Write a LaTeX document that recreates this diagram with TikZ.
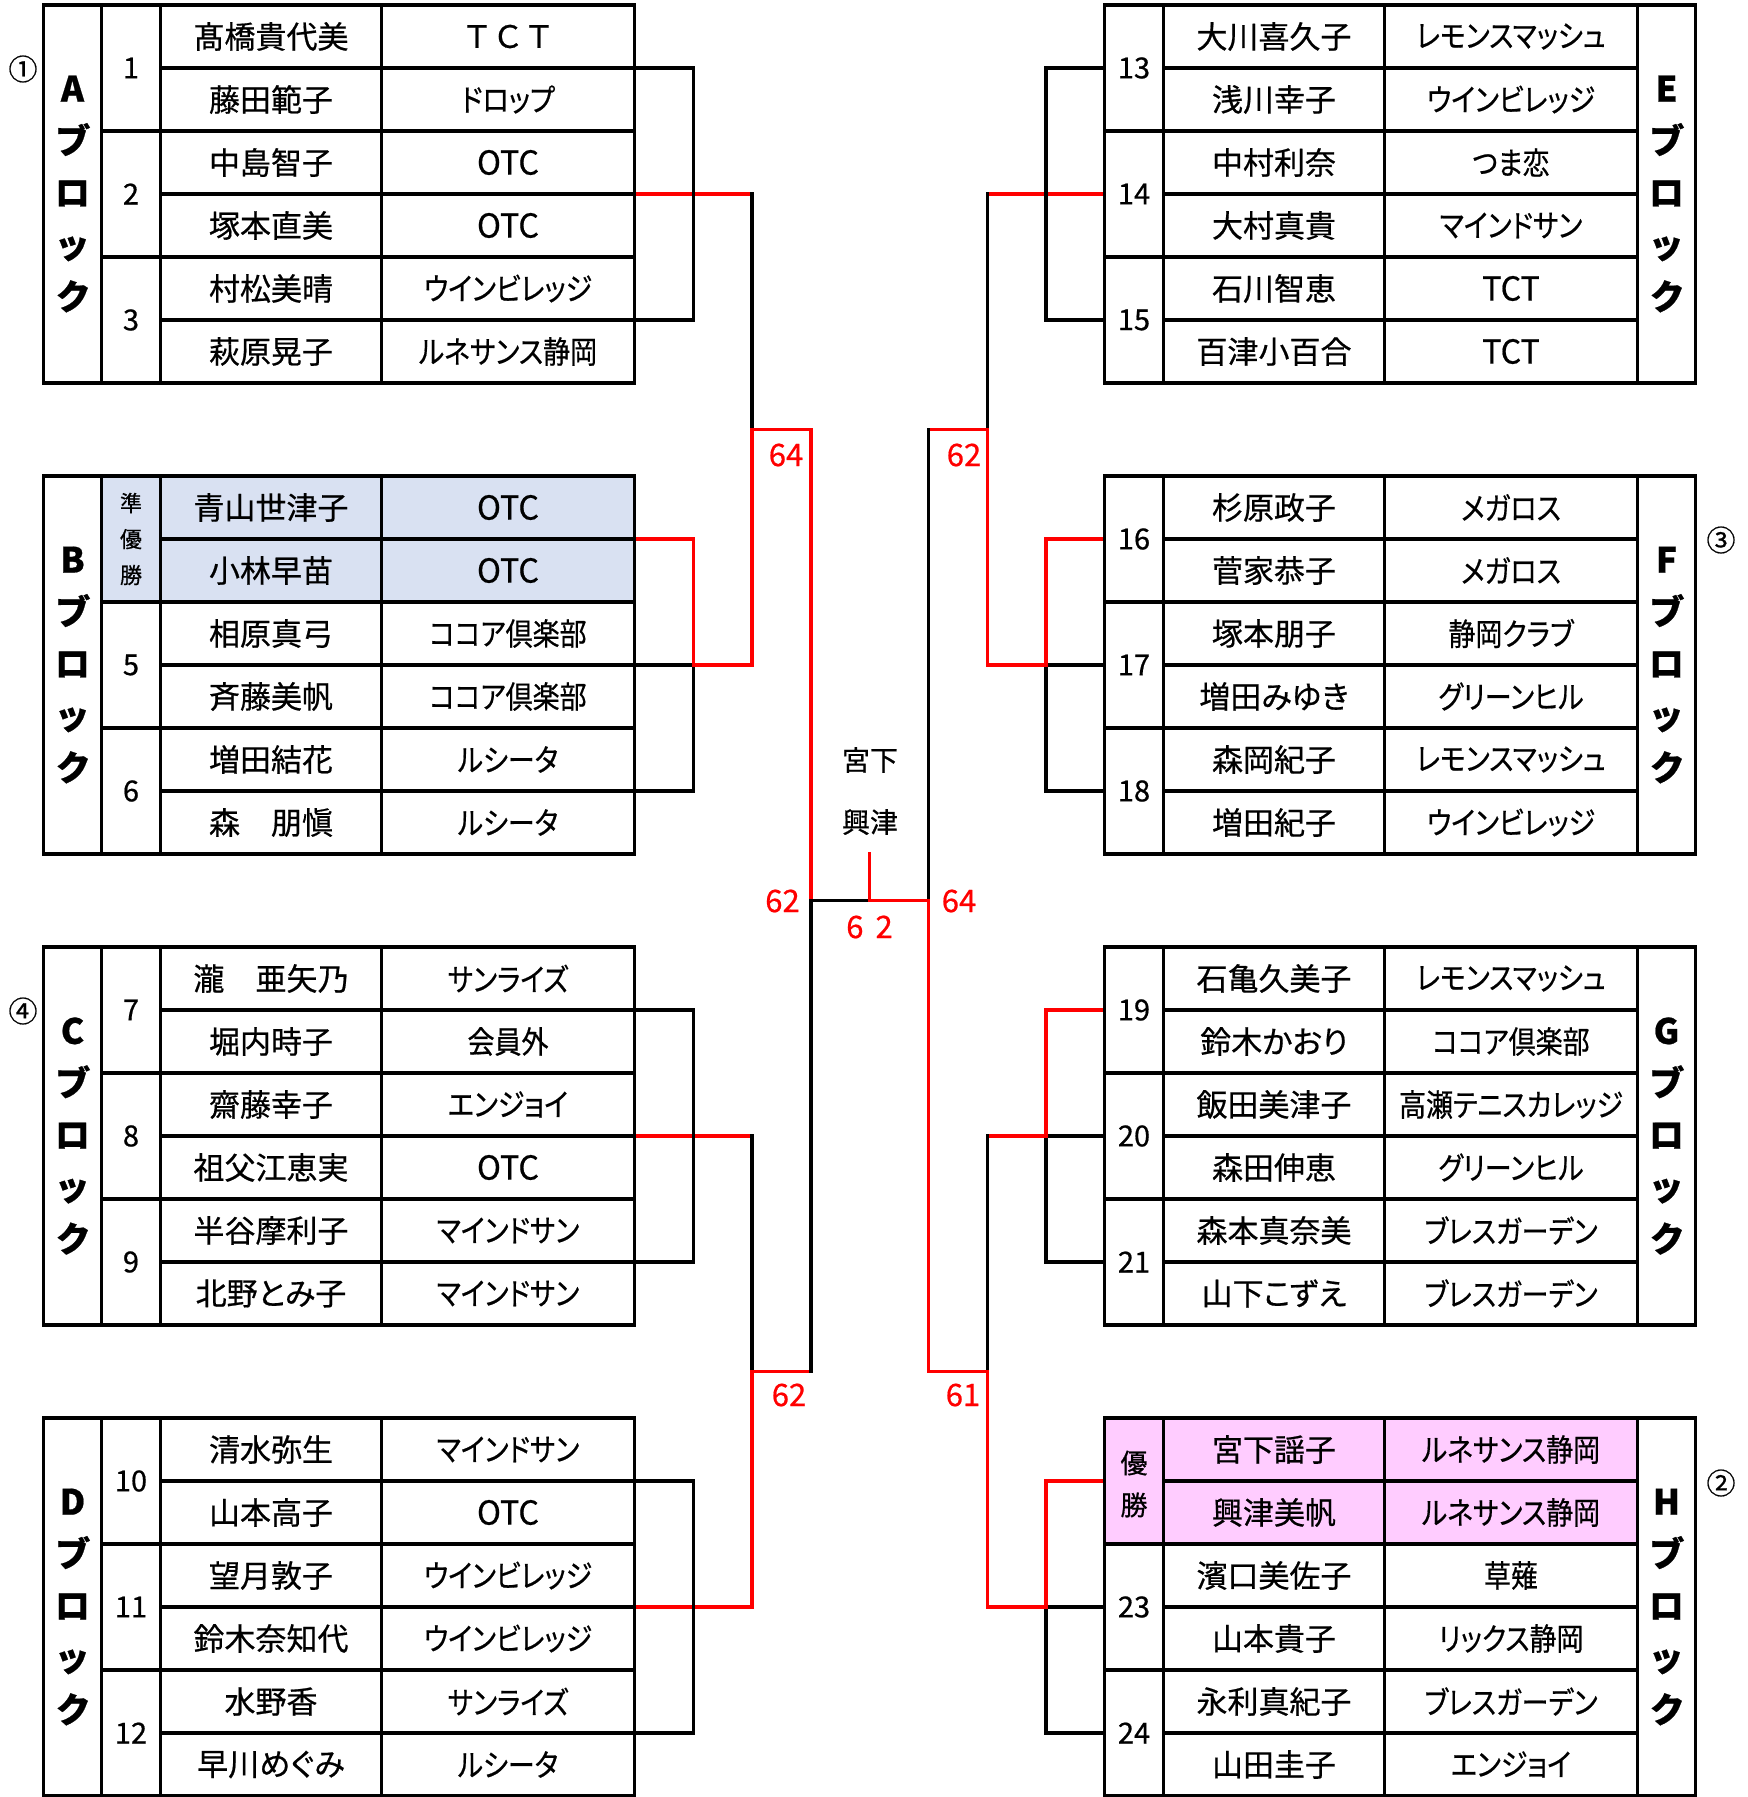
\documentclass[tikz,border=0pt]{standalone}
\usepackage{fontspec}
\setmainfont{Noto Sans CJK JP}[RawFeature={+palt;embolden=0.6}]
\newfontfamily\jpw{Noto Sans CJK JP}[RawFeature={embolden=0.6}]
\definecolor{winred}{RGB}{255,0,0}
\definecolor{runbg}{RGB}{217,225,242}
\definecolor{chbg}{RGB}{255,204,255}
\newcommand\LT[1]{\scalebox{1.12}[1]{\fontsize{33}{38}\selectfont #1}}
\newcommand\WT[1]{\scalebox{1.15}[1]{\jpw #1}}
\tikzset{
  tline/.style={line width=3.3pt, black},
  blk/.style={line width=3.3pt, black},
  win/.style={line width=3.3pt, winred},
  txt/.style={font=\fontsize{31}{36}\selectfont, inner sep=0pt},
  num/.style={font=\fontsize{29}{32}\selectfont, inner sep=0pt},
  blab/.style={font=\bfseries\fontsize{35}{52}\selectfont, inner sep=0pt, align=center},
  smallv/.style={font=\fontsize{22}{36}\selectfont, inner sep=0pt, align=center},
  champv/.style={font=\fontsize{27}{42}\selectfont, inner sep=0pt, align=center},
  score/.style={font=\fontsize{31}{34}\selectfont, inner sep=0pt, text=winred},
  mid/.style={font=\fontsize{28}{32}\selectfont, inner sep=0pt},
  circ/.style={font=\fontsize{29}{32}\selectfont, inner sep=0pt},
}
% tables
\newcommand\tabL[1]{%
  \draw[tline] (43.5,#1) rectangle (634.5,#1+378);
  \foreach \xx in {101.5,160.5,381.5} \draw[tline] (\xx,#1) -- (\xx,#1+378);
  \foreach \k in {1,...,5} \draw[tline] (160.5,#1+63*\k) -- (634.5,#1+63*\k);
  \foreach \k in {2,4} \draw[tline] (101.5,#1+63*\k) -- (160.5,#1+63*\k);}
\newcommand\tabR[1]{%
  \draw[tline] (1104.5,#1) rectangle (1695.5,#1+378);
  \foreach \xx in {1163.5,1384.5,1637.5} \draw[tline] (\xx,#1) -- (\xx,#1+378);
  \foreach \k in {1,...,5} \draw[tline] (1163.5,#1+63*\k) -- (1637.5,#1+63*\k);
  \foreach \k in {2,4} \draw[tline] (1104.5,#1+63*\k) -- (1163.5,#1+63*\k);}
\newcommand\rowsL[3]{%
  \foreach \nm/\cl [count=\i from 0] in {#3}{%
    \node[txt] (#1-n\i) at (271,#2+63*\i+31.5) {\nm};
    \node[txt] (#1-c\i) at (508,#2+63*\i+31.5) {\scalebox{0.87}[1]{\cl}};}}
\newcommand\rowsR[3]{%
  \foreach \nm/\cl [count=\i from 0] in {#3}{%
    \node[txt] (#1-n\i) at (1274,#2+63*\i+31.5) {\nm};
    \node[txt] (#1-c\i) at (1511,#2+63*\i+31.5) {\scalebox{0.87}[1]{\cl}};}}
% brackets
\newcommand\brco[5]{%
  \coordinate (#1-e1) at (#3,#2+63);
  \coordinate (#1-e2) at (#3,#2+189);
  \coordinate (#1-e3) at (#3,#2+315);
  \coordinate (#1-b1) at (#4,#2+63);
  \coordinate (#1-b2) at (#4,#2+189);
  \coordinate (#1-b3) at (#4,#2+315);
  \coordinate (#1-o) at (#5,#2+189);}
\newcommand\brmid[1]{%
  \draw[win] (#1-e2) -- (#1-o);
  \draw[blk] (#1-e1) -- (#1-b1) -- (#1-b3) -- (#1-e3);}
\newcommand\brtop[1]{%
  \draw[blk] (#1-e2) -- (#1-b2) -- (#1-b3) -- (#1-e3);
  \draw[win] (#1-e1) -- (#1-b1) -- (#1-b2) -- (#1-o);}
\begin{document}
\begin{tikzpicture}[x=1pt,y=-1pt,line join=miter,line cap=rect]
\useasboundingbox (0,0) rectangle (1748,1797);
% shading
\fill[runbg] (101.5,476) rectangle (634.5,602);
\fill[chbg] (1104.5,1418) rectangle (1637.5,1544);
% bracket coordinates
\brco{A}{5}{634.5}{693.5}{752}
\brco{B}{476}{634.5}{693.5}{752}
\brco{C}{947}{634.5}{693.5}{752}
\brco{D}{1418}{634.5}{693.5}{752}
\brco{E}{5}{1104.5}{1046}{987.5}
\brco{F}{476}{1104.5}{1046}{987.5}
\brco{G}{947}{1104.5}{1046}{987.5}
\brco{H}{1418}{1104.5}{1046}{987.5}
\brmid{A}\brtop{B}\brmid{C}\brmid{D}
\brmid{E}\brtop{F}\brtop{G}\brtop{H}
% semifinal and final
\coordinate (L1j) at (752,429.5);  \coordinate (L1f) at (811,429.5);
\coordinate (L2j) at (752,1371.5); \coordinate (L2f) at (811,1371.5);
\coordinate (R1j) at (987.5,429.5);  \coordinate (R1f) at (928.5,429.5);
\coordinate (R2j) at (987.5,1371.5); \coordinate (R2f) at (928.5,1371.5);
\coordinate (FL) at (811,900.5); \coordinate (FC) at (869.5,900.5);
\coordinate (FR) at (928.5,900.5); \coordinate (FT) at (869.5,854);
\draw[blk] (A-o) -- (L1j);
\draw[win] (B-o) -- (L1j) -- (L1f);
\draw[blk] (C-o) -- (L2j);
\draw[win] (D-o) -- (L2j) -- (L2f);
\draw[blk] (E-o) -- (R1j);
\draw[win] (F-o) -- (R1j) -- (R1f);
\draw[blk] (G-o) -- (R2j);
\draw[win] (H-o) -- (R2j) -- (R2f);
\draw[win] (L1f) -- (FL);
\draw[blk] (L2f) -- (FL) -- (FC);
\draw[blk] (R1f) -- (FR);
\draw[win] (R2f) -- (FR);
\draw[win] (FT) -- (FC) -- (FR);
% tables
\tabL{5}\tabL{476}\tabL{947}\tabL{1418}
\tabR{5}\tabR{476}\tabR{947}\tabR{1418}
% texts
\rowsL{A}{5}{髙橋貴代美/\WT{ＴＣＴ},藤田範子/ドロップ,中島智子/\LT{OTC},塚本直美/\LT{OTC},村松美晴/ウインビレッジ,萩原晃子/ルネサンス静岡}
\rowsL{B}{476}{青山世津子/\LT{OTC},小林早苗/\LT{OTC},相原真弓/ココア倶楽部,斉藤美帆/ココア倶楽部,増田結花/ルシータ,森　朋愼/ルシータ}
\rowsL{C}{947}{瀧　亜矢乃/サンライズ,堀内時子/会員外,齋藤幸子/エンジョイ,祖父江恵実/\LT{OTC},半谷摩利子/マインドサン,北野とみ子/マインドサン}
\rowsL{D}{1418}{清水弥生/マインドサン,山本高子/\LT{OTC},望月敦子/ウインビレッジ,鈴木奈知代/ウインビレッジ,水野香/サンライズ,早川めぐみ/ルシータ}
\rowsR{E}{5}{大川喜久子/レモンスマッシュ,浅川幸子/ウインビレッジ,中村利奈/つま恋,大村真貴/マインドサン,石川智恵/\LT{TCT},百津小百合/\LT{TCT}}
\rowsR{F}{476}{杉原政子/メガロス,菅家恭子/メガロス,塚本朋子/静岡クラブ,増田みゆき/グリーンヒル,森岡紀子/レモンスマッシュ,増田紀子/ウインビレッジ}
\rowsR{G}{947}{石亀久美子/レモンスマッシュ,鈴木かおり/ココア倶楽部,飯田美津子/高瀬テニスカレッジ,森田伸恵/グリーンヒル,森本真奈美/ブレスガーデン,山下こずえ/ブレスガーデン}
\rowsR{H}{1418}{宮下謡子/ルネサンス静岡,興津美帆/ルネサンス静岡,濱口美佐子/草薙,山本貴子/リックス静岡,永利真紀子/ブレスガーデン,山田圭子/エンジョイ}
% entry numbers
\node[num] (A-k1) at (131,68) {1};
\node[num] (A-k2) at (131,194) {2};
\node[num] (A-k3) at (131,320) {3};
\node[smallv] (B-k1) at (131,539) {準\\優\\勝};
\node[num] (B-k2) at (131,665) {5};
\node[num] (B-k3) at (131,791) {6};
\node[num] (C-k1) at (131,1010) {7};
\node[num] (C-k2) at (131,1136) {8};
\node[num] (C-k3) at (131,1262) {9};
\node[num] (D-k1) at (131,1481) {10};
\node[num] (D-k2) at (131,1607) {11};
\node[num] (D-k3) at (131,1733) {12};
\node[num] (E-k1) at (1134,68) {13};
\node[num] (E-k2) at (1134,194) {14};
\node[num] (E-k3) at (1134,320) {15};
\node[num] (F-k1) at (1134,539) {16};
\node[num] (F-k2) at (1134,665) {17};
\node[num] (F-k3) at (1134,791) {18};
\node[num] (G-k1) at (1134,1010) {19};
\node[num] (G-k2) at (1134,1136) {20};
\node[num] (G-k3) at (1134,1262) {21};
\node[champv] (H-k1) at (1134,1484) {優\\勝};
\node[num] (H-k2) at (1134,1607) {23};
\node[num] (H-k3) at (1134,1733) {24};
% block labels
\node[blab] (A-lab) at (72.5,194) {A\\ブ\\ロ\\ッ\\ク};
\node[blab] (B-lab) at (72.5,665) {B\\ブ\\ロ\\ッ\\ク};
\node[blab] (C-lab) at (72.5,1136) {C\\ブ\\ロ\\ッ\\ク};
\node[blab] (D-lab) at (72.5,1607) {D\\ブ\\ロ\\ッ\\ク};
\node[blab] (E-lab) at (1666.5,194) {E\\ブ\\ロ\\ッ\\ク};
\node[blab] (F-lab) at (1666.5,665) {F\\ブ\\ロ\\ッ\\ク};
\node[blab] (G-lab) at (1666.5,1136) {G\\ブ\\ロ\\ッ\\ク};
\node[blab] (H-lab) at (1666.5,1607) {H\\ブ\\ロ\\ッ\\ク};
% seeds
\node[circ] (seed1) at (23,69) {①};
\node[circ] (seed4) at (23,1011) {④};
\node[circ] (seed3) at (1721,540) {③};
\node[circ] (seed2) at (1721,1483) {②};
% scores
\node[score] (sAB) at (786,455) {64};
\node[score] (sEF) at (964,455) {62};
\node[score] (sCD) at (789,1395) {62};
\node[score] (sGH) at (963,1395) {61};
\node[score] (sFL) at (782.5,901) {62};
\node[score] (sFR) at (959,901) {64};
\node[score] (sF) at (869.5,927) {6\hspace{12pt}2};
\node[mid] (w1) at (870,760) {宮下};
\node[mid] (w2) at (870,822) {興津};
\end{tikzpicture}
\end{document}
